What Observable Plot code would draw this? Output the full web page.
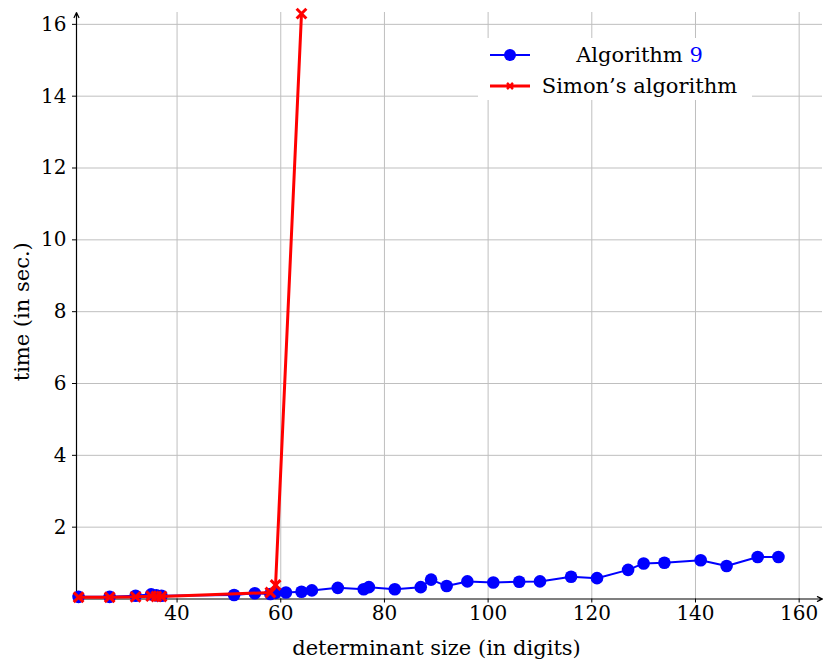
<!DOCTYPE html>
<html>
<head>
<meta charset="utf-8">
<script src="https://cdn.jsdelivr.net/npm/d3@7"></script>
<script src="https://cdn.jsdelivr.net/npm/@observablehq/plot@0.6"></script>
<style>
  html, body { margin: 0; padding: 0; background: white; }
  #wrap { position: relative; width: 823px; height: 661px; }
  #legend { position: absolute; left: 478px; top: 38px; width: 274px; height: 62px; background: white;
    font-family: "DejaVu Serif", serif; font-size: 21px; color: #000; }
  .row { position: absolute; left: 0; width: 274px; height: 30px; }
  .row svg { position: absolute; left: 10px; top: 0; }
  .row .txt { position: absolute; left: 56px; width: 211px; text-align: center; line-height: 30px; top: 0; white-space: nowrap; }
</style>
</head>
<body>
<div id="wrap">
  <div id="chart"></div>
  <div id="legend">
    <div class="row" style="top:2px">
      <svg width="44" height="30"><line x1="2" y1="15" x2="42" y2="15" stroke="#0000ff" stroke-width="2"/><circle cx="22" cy="15" r="6" fill="#0000ff"/></svg>
      <div class="txt">Algorithm <span style="color:#0000ff">9</span></div>
    </div>
    <div class="row" style="top:33px">
      <svg width="44" height="30"><line x1="2" y1="15" x2="42" y2="15" stroke="#ff0000" stroke-width="3"/><path d="M19,12L25,18M25,12L19,18" stroke="#ff0000" stroke-width="2.5"/></svg>
      <div class="txt">Simon’s algorithm</div>
    </div>
  </div>
</div>
<script>
// Algorithm 9
const algX = [21, 27, 32, 35, 36, 37, 51, 55, 58, 59, 61, 64, 66, 71, 76, 77, 82, 87, 89, 92, 96, 101, 106, 110, 116, 121, 127, 130, 134, 141, 146, 152, 156];
const algY = [0.06, 0.06, 0.09, 0.13, 0.10, 0.09, 0.11, 0.16, 0.14, 0.17, 0.18, 0.20, 0.24, 0.31, 0.27, 0.33, 0.27, 0.33, 0.54, 0.36, 0.49, 0.46, 0.48, 0.49, 0.62, 0.58, 0.81, 0.99, 1.01, 1.08, 0.92, 1.17, 1.17];
// Simon's algorithm
const simX = [21, 27, 32, 35, 36, 37, 58, 59, 64];
const simY = [0.05, 0.05, 0.06, 0.08, 0.07, 0.07, 0.18, 0.39, 16.3];

const xTicks = [40, 60, 80, 100, 120, 140, 160];
const yTicks = [2, 4, 6, 8, 10, 12, 14, 16];
const xDomain = [20.6, 164.5];
const yDomain = [0, 16.33];
const xLabel = "determinant size (in digits)";
const yLabel = "time (in sec.)";

const alg = algX.map((x, i) => ({x, y: algY[i]}));
const sim = simX.map((x, i) => ({x, y: simY[i]}));

const FONT = "'DejaVu Serif', serif";

const chart = Plot.plot({
  width: 823,
  height: 661,
  marginLeft: 76,
  marginRight: 1,
  marginTop: 12,
  marginBottom: 62.5,
  x: {domain: xDomain},
  y: {domain: yDomain},
  style: {fontFamily: FONT, fontSize: "21px", background: "white", color: "black"},
  marks: [
    Plot.gridX(xTicks, {stroke: "#bfbfbf", strokeOpacity: 1, strokeWidth: 1}),
    Plot.gridY(yTicks, {stroke: "#bfbfbf", strokeOpacity: 1, strokeWidth: 1}),
    Plot.axisX(xTicks, {tickSize: 4, tickPadding: 3, tickFormat: d => String(d), fontSize: 20, fontFamily: FONT,
      label: null}),
    Plot.axisY(yTicks, {tickSize: 4, tickPadding: 6, tickFormat: d => String(d), fontSize: 20, fontFamily: FONT,
      label: null}),
    Plot.text([xLabel], {frameAnchor: "bottom", text: d => d, dy: 49, dx: -13, lineAnchor: "middle", fontSize: 21, fontFamily: FONT, fill: "black"}),
    Plot.text([yLabel], {frameAnchor: "left", text: d => d, dx: -54, dy: 6, rotate: -90, lineAnchor: "middle", textAnchor: "middle", fontSize: 21, fontFamily: FONT, fill: "black"}),
    Plot.arrow([{x1: xDomain[0], y1: 0, x2: xDomain[1], y2: 0}], {x1: "x1", y1: "y1", x2: "x2", y2: "y2", stroke: "black", strokeWidth: 1.2, headLength: 7, headAngle: 50}),
    Plot.arrow([{x1: xDomain[0], y1: 0, x2: xDomain[0], y2: yDomain[1]}], {x1: "x1", y1: "y1", x2: "x2", y2: "y2", stroke: "black", strokeWidth: 1.2, headLength: 7, headAngle: 50}),
    Plot.line(alg, {x: "x", y: "y", stroke: "#0000ff", strokeWidth: 2}),
    Plot.dot(alg, {x: "x", y: "y", r: 6.3, fill: "#0000ff", stroke: "none"}),
    Plot.line(sim, {x: "x", y: "y", stroke: "#ff0000", strokeWidth: 3}),
    Plot.dot(sim, {x: "x", y: "y", symbol: "times", r: 4.5, stroke: "#ff0000", strokeWidth: 3})
  ]
});
document.getElementById("chart").appendChild(chart);
</script>
</body>
</html>
